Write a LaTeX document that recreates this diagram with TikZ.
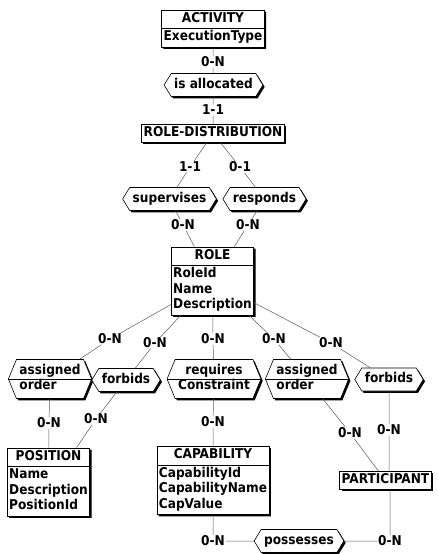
\documentclass[tikz,border=0pt]{standalone}
\usepackage{fontspec}
\setmainfont{DejaVu Sans Condensed}
\usetikzlibrary{shapes.multipart,shapes.symbols,shadows}
\newcommand\attrs[1]{\begin{tabular}{@{}l@{}}#1\end{tabular}}
\newcommand\cattrs[1]{\begin{tabular}{@{}c@{}}#1\end{tabular}}
\tikzset{
  every node/.style={font=\fontsize{13.5}{15.5}\selectfont\bfseries},
  shad/.style={drop shadow={shadow xshift=1.8pt, shadow yshift=-1.8pt, fill=black, opacity=1}},
  ent/.style={rectangle split, rectangle split parts=2, draw, fill=white,
    inner xsep=2pt, inner ysep=1.25pt, line width=0.6pt, shad},
  ent1/.style={rectangle, draw, fill=white, inner xsep=2pt, inner ysep=1.25pt,
    line width=0.6pt, shad},
  asc/.style={signal, signal to=east and west, draw, fill=white, inner xsep=3pt,
    inner ysep=3.75pt, signal pointer angle=117, line width=0.6pt, shad},
  asc2/.style={asc, inner ysep=4pt, signal pointer angle=135},
  card/.style={fill=white, inner sep=0.5pt},
  link/.style={draw=black!65, line width=0.5pt},
  divider/.style={draw=black, line width=0.5pt}
}
\begin{document}
\begin{tikzpicture}[x=1pt,y=-1pt]
\useasboundingbox (0,0) rectangle (438,554);
% entities
\node[ent] (act) at (213,28.5) {\strut ACTIVITY\nodepart{two}\strut ExecutionType};
\node[ent1] (rdist) at (213,133.5) {\strut ROLE-DISTRIBUTION};
\node[ent] (role) at (212.5,281) {\strut ROLE\nodepart{two}\attrs{RoleId\\Name\\Description}};
\node[ent] (pos) at (48.5,482) {\strut POSITION\nodepart{two}\attrs{Name\\Description\\PositionId}};
\node[ent] (cap) at (213,480.5) {\strut CAPABILITY\nodepart{two}\attrs{CapabilityId\\CapabilityName\\CapValue}};
\node[ent1] (part) at (385.5,480.5) {\strut PARTICIPANT};
% associations
\node[asc] (alloc) at (213.5,85) {\strut is allocated};
\node[asc] (sup) at (169.5,199) {\strut supervises};
\node[asc] (resp) at (264.5,199) {\strut responds};
\node[asc2] (ao1) at (50,379) {\attrs{assigned\\order}};
\node[asc] (fb1) at (126,380) {\strut forbids};
\node[asc2] (req) at (214,379) {\cattrs{requires\\Constraint}};
\node[asc2] (ao2) at (307,379) {\attrs{assigned\\order}};
\node[asc] (fb2) at (389,379.5) {\strut forbids};
\node[asc] (poss) at (299,541) {\strut possesses};
\draw[divider] (ao1.west) -- (ao1.east);
\draw[divider] (req.west) -- (req.east);
\draw[divider] (ao2.west) -- (ao2.east);
% cardinalities
\node[card] (c1) at (213,62) {0-N};
\node[card] (c2) at (213,110) {1-1};
\node[card] (c3) at (190,167) {1-1};
\node[card] (c4) at (240,167) {0-1};
\node[card] (c5) at (183,225) {0-N};
\node[card] (c6) at (248,225) {0-N};
\node[card] (c7) at (110,339) {0-N};
\node[card] (c8) at (155,343) {0-N};
\node[card] (c9) at (213,339) {0-N};
\node[card] (c10) at (274,339) {0-N};
\node[card] (c11) at (331,343) {0-N};
\node[card] (c12) at (49,423) {0-N};
\node[card] (c13) at (96,419) {0-N};
\node[card] (c14) at (213,422) {0-N};
\node[card] (c15) at (350,433) {0-N};
\node[card] (c16) at (389,430) {0-N};
\node[card] (c17) at (213,541) {0-N};
\node[card] (c18) at (390,541) {0-N};
% links
\draw[link] (act) -- (c1) -- (alloc) -- (c2) -- (rdist);
\draw[link] (rdist) -- (c3) -- (sup) -- (c5) -- (role);
\draw[link] (rdist) -- (c4) -- (resp) -- (c6) -- (role);
\draw[link] (role) -- (c7) -- (ao1) -- (c12) -- (pos);
\draw[link] (role) -- (c8) -- (fb1) -- (c13) -- ([xshift=28pt]pos.north);
\draw[link] (role) -- (c9) -- (req) -- (c14) -- (cap);
\draw[link] (role) -- (c10) -- (ao2) -- (c15) -- (part);
\draw[link] (role) -- (c11) -- (fb2) -- (c16) -- (c16 |- part.north);
\draw[link] (cap) -- (c17) -- (poss);
\draw[link] (part.south -| c18) -- (c18) -- (poss);
\end{tikzpicture}
\end{document}
